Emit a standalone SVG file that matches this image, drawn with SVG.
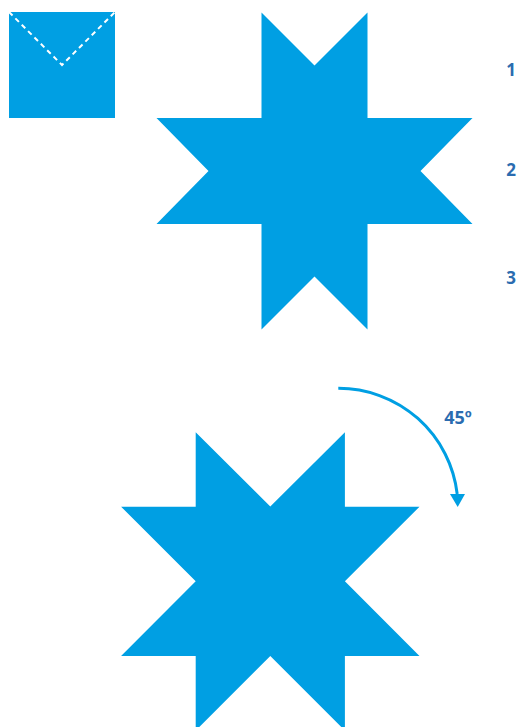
<svg xmlns="http://www.w3.org/2000/svg" width="520" height="727" viewBox="0 0 520 727">
<style>
.shape{fill:#009FE3}
.num{font-family:"Open Sans","Liberation Sans",sans-serif;font-weight:bold;fill:#2B6CB0;text-anchor:middle}
</style>
<defs>
<marker id="ah" viewBox="0 0 10 10" refX="5" refY="10" markerWidth="15" markerHeight="13" markerUnits="userSpaceOnUse" orient="auto-start-reverse"><path d="M0,0 L10,0 L5,10 Z" fill="#009FE3"/></marker>
</defs>
<rect width="520" height="727" fill="#fff"/>
<g id="square">
<rect class="shape" x="9" y="12" width="106" height="106"/>
<path d="M9,12 L62,65 L115,12" fill="none" stroke="#fff" stroke-width="2" stroke-dasharray="5,4"/>
</g>
<g id="star-top">
<path class="shape" d="M261.5,12.5 L314.5,65.5 L367.5,12.5 L367.5,118 L472.5,118 L420.5,171 L472.5,224 L367.5,224 L367.5,329.5 L314.5,276.5 L261.5,329.5 L261.5,224 L156.5,224 L208.5,171 L156.5,118 L261.5,118 Z"/>
</g>
<g id="labels">
<text class="num" x="511" y="76" font-size="17">1</text>
<text class="num" x="511" y="176" font-size="17">2</text>
<text class="num" x="511" y="284" font-size="17">3</text>
</g>
<g id="star-bottom">
<path class="shape" d="M195.7,432.3 L270.3,506.5 L344.9,432.3 L344.9,506.7 L419.5,506.7 L344.9,581.3 L419.5,655.9 L344.9,655.9 L344.9,730.6 L270.3,656 L195.7,730.6 L195.7,655.9 L121.1,655.9 L195.7,581.3 L121.1,506.7 L195.7,506.7 Z"/>
</g>
<g id="connectors">
<path d="M338.3,388.3 A119.5,119.5 0 0 1 457.2,494" fill="none" stroke="#009FE3" stroke-width="3"/>
<path d="M450,494 L465,494 L457.7,507 Z" fill="#009FE3"/>
</g>
<text class="num" x="458" y="424" font-size="18">45º</text>
</svg>
